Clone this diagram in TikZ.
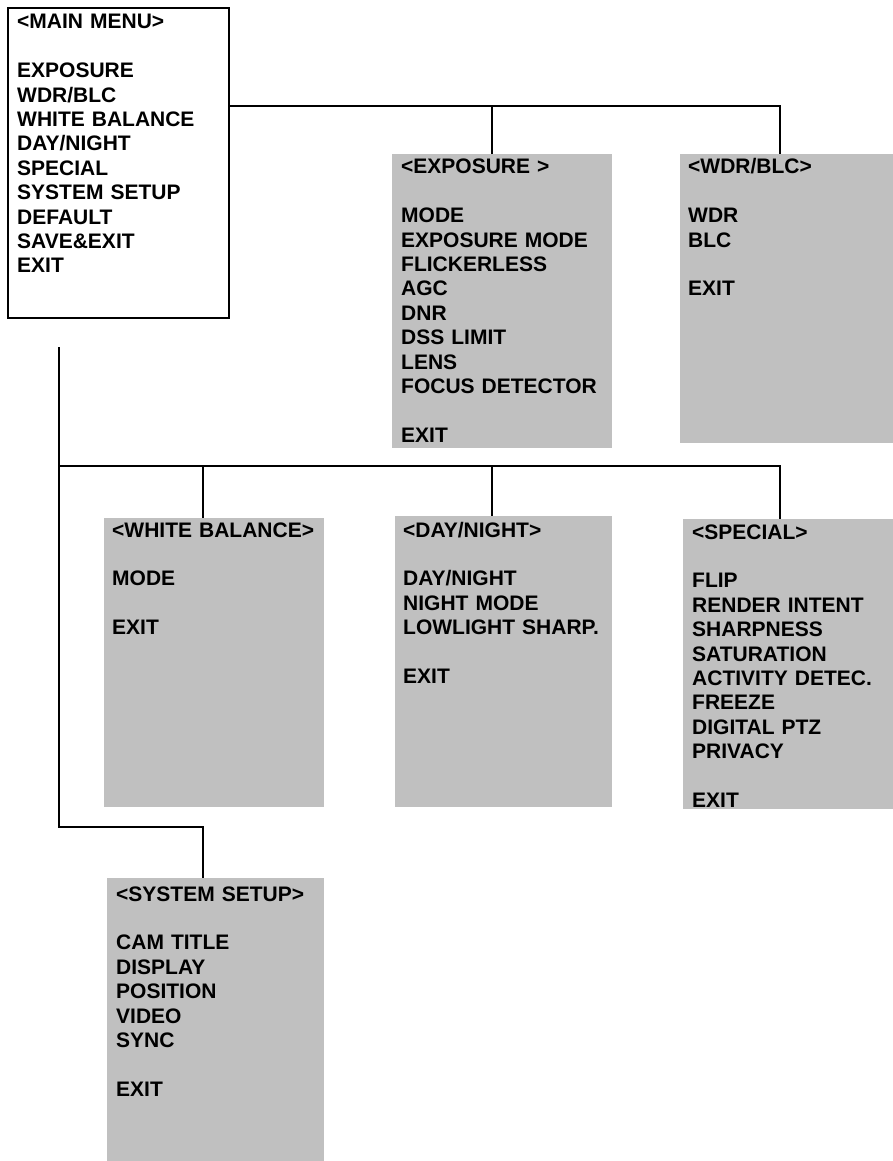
\documentclass[tikz,border=0pt]{standalone}
\usepackage{fontspec}
\setmainfont{Liberation Sans}
\definecolor{menugray}{RGB}{192,192,192}

\tikzset{
	menubox/.style={anchor=north west, inner sep=0pt, draw, line width=1.6pt},
	submenu/.style={anchor=north west, inner sep=0pt, fill=menugray},
	menutext/.style={anchor=base west, inner sep=0pt, text width=220pt, align=left,
		font=\fontsize{21}{24.4}\selectfont\bfseries},
	wire/.style={line width=1.8pt}
}

\begin{document}
\begin{tikzpicture}[x=1pt,y=-1pt]
	\useasboundingbox (0,0) rectangle (893,1161);

	% boxes
	\node[menubox, minimum width=221pt, minimum height=310pt] (main) at (7,7) {};
	\node[submenu, minimum width=220pt, minimum height=294pt] (expo) at (392,154) {};
	\node[submenu, minimum width=213pt, minimum height=289pt] (wdr) at (680,154) {};
	\node[submenu, minimum width=220pt, minimum height=289pt] (wb) at (104,518) {};
	\node[submenu, minimum width=217pt, minimum height=291pt] (dn) at (395,516) {};
	\node[submenu, minimum width=210pt, minimum height=290pt] (spec) at (683,519) {};
	\node[submenu, minimum width=217pt, minimum height=283pt] (sys) at (107,878) {};

	% menu texts
	\node[menutext] (maintxt) at ([shift={(10,22)}]main.north west)
		{<MAIN MENU>\\[24.4pt]EXPOSURE\\WDR/BLC\\WHITE BALANCE\\DAY/NIGHT\\SPECIAL\\SYSTEM SETUP\\DEFAULT\\SAVE\&EXIT\\EXIT};
	\node[menutext] (expotxt) at ([shift={(9,20)}]expo.north west)
		{<EXPOSURE >\\[24.4pt]MODE\\EXPOSURE MODE\\FLICKERLESS\\AGC\\DNR\\DSS LIMIT\\LENS\\FOCUS DETECTOR\\[24.4pt]EXIT};
	\node[menutext] (wdrtxt) at ([shift={(8,20)}]wdr.north west)
		{<WDR/BLC>\\[24.4pt]WDR\\BLC\\[24.4pt]EXIT};
	\node[menutext] (wbtxt) at ([shift={(8,19)}]wb.north west)
		{<WHITE BALANCE>\\[24.4pt]MODE\\[24.4pt]EXIT};
	\node[menutext] (dntxt) at ([shift={(8,21)}]dn.north west)
		{<DAY/NIGHT>\\[24.4pt]DAY/NIGHT\\NIGHT MODE\\LOWLIGHT SHARP.\\[24.4pt]EXIT};
	\node[menutext] (spectxt) at ([shift={(9,20)}]spec.north west)
		{<SPECIAL>\\[24.4pt]FLIP\\RENDER INTENT\\SHARPNESS\\SATURATION\\ACTIVITY DETEC.\\FREEZE\\DIGITAL PTZ\\PRIVACY\\[24.4pt]EXIT};
	\node[menutext] (systxt) at ([shift={(9,23)}]sys.north west)
		{<SYSTEM SETUP>\\[24.4pt]CAM TITLE\\DISPLAY\\POSITION\\VIDEO\\SYNC\\[24.4pt]EXIT};

	% junctions
	\coordinate (top1) at (492,106);
	\coordinate (top2) at (780,106);
	\coordinate (trunk) at (59,347);
	\coordinate (low1) at (203,466);
	\coordinate (low2) at (492,466);
	\coordinate (low3) at (780,466);
	\coordinate (sysin) at (203,827);

	% connectors
	\draw[wire] (main.east |- top1) -- (top2) -- (top2 |- wdr.north);
	\draw[wire] (top1) -- (top1 |- expo.north);
	\draw[wire] (trunk) |- (sysin) -- (sysin |- sys.north);
	\draw[wire] (trunk |- low1) -- (low3) -- (low3 |- spec.north);
	\draw[wire] (low1) -- (low1 |- wb.north);
	\draw[wire] (low2) -- (low2 |- dn.north);

\end{tikzpicture}
\end{document}
